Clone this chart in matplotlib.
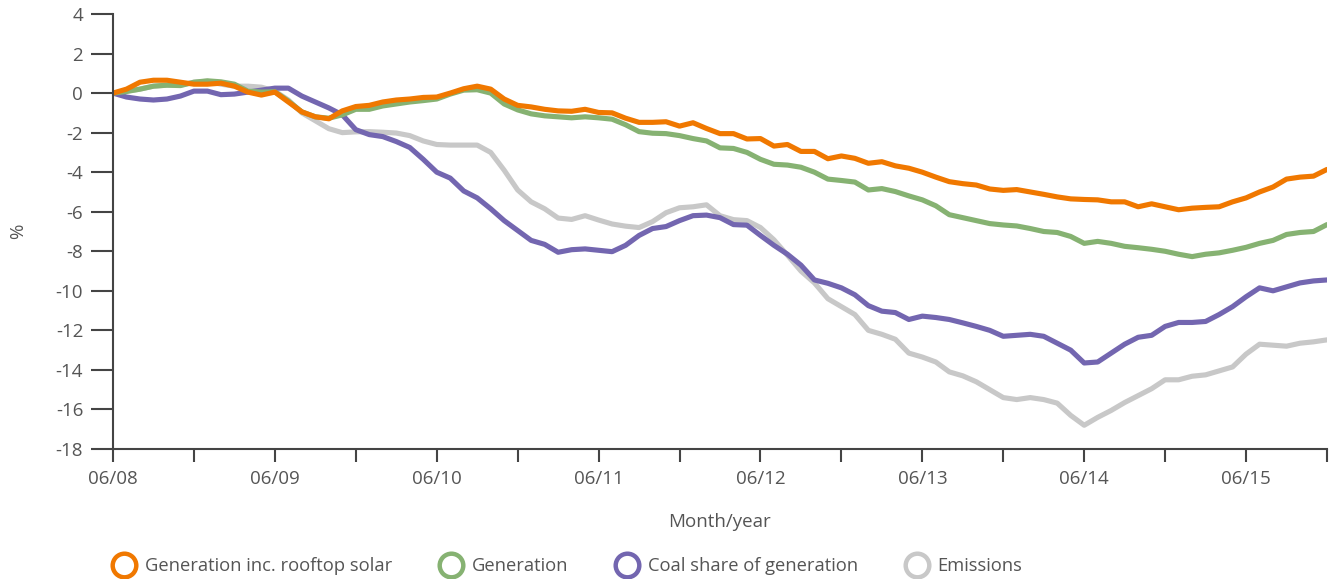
import numpy as np
import matplotlib
matplotlib.use("Agg")
import matplotlib.pyplot as plt
from matplotlib.lines import Line2D

plt.rcParams['font.family'] = ['Open Sans', 'DejaVu Sans']

# Monthly values, June 2008 .. December 2015 (91 months), % change
gen_rooftop = [0.0, 0.2, 0.55, 0.65, 0.65, 0.55, 0.45, 0.45, 0.5, 0.35, 0.05, -0.1, 0.05,
               -0.45, -0.95, -1.2, -1.3, -0.9, -0.68, -0.62, -0.45, -0.35, -0.3, -0.22, -0.2,
               0.0, 0.22, 0.35, 0.2, -0.3, -0.62, -0.7, -0.82, -0.9, -0.92, -0.82, -0.98,
               -1.0, -1.27, -1.48, -1.48, -1.45, -1.67, -1.5, -1.79, -2.05, -2.05, -2.32, -2.3,
               -2.68, -2.6, -2.95, -2.95, -3.32, -3.18, -3.3, -3.55, -3.47, -3.68, -3.8, -4.0,
               -4.25, -4.48, -4.58, -4.65, -4.85, -4.92, -4.88, -5.0, -5.12, -5.25, -5.35, -5.38,
               -5.4, -5.5, -5.5, -5.75, -5.6, -5.75, -5.9, -5.82, -5.78, -5.75, -5.5, -5.3,
               -5.0, -4.75, -4.35, -4.25, -4.2, -3.86]

generation = [0.0, 0.08, 0.2, 0.35, 0.4, 0.38, 0.55, 0.62, 0.57, 0.45, 0.1, 0.05, 0.07,
              -0.4, -0.95, -1.2, -1.27, -1.1, -0.82, -0.82, -0.65, -0.55, -0.45, -0.38, -0.3,
              -0.05, 0.15, 0.17, 0.0, -0.55, -0.85, -1.05, -1.15, -1.2, -1.25, -1.2, -1.25,
              -1.32, -1.6, -1.95, -2.03, -2.05, -2.15, -2.3, -2.42, -2.77, -2.8, -3.0, -3.35,
              -3.6, -3.64, -3.75, -4.0, -4.35, -4.42, -4.5, -4.9, -4.83, -4.98, -5.2, -5.4,
              -5.7, -6.15, -6.3, -6.45, -6.6, -6.67, -6.72, -6.85, -7.0, -7.05, -7.25, -7.6,
              -7.5, -7.6, -7.75, -7.82, -7.9, -8.0, -8.15, -8.27, -8.15, -8.08, -7.95, -7.8,
              -7.6, -7.45, -7.15, -7.05, -7.0, -6.65]

coal_share = [0.0, -0.2, -0.3, -0.35, -0.3, -0.15, 0.1, 0.1, -0.08, -0.05, 0.05, 0.15, 0.25,
              0.25, -0.15, -0.45, -0.75, -1.1, -1.85, -2.1, -2.2, -2.45, -2.75, -3.35, -4.0,
              -4.3, -4.95, -5.3, -5.85, -6.45, -6.95, -7.45, -7.65, -8.05, -7.92, -7.88, -7.95,
              -8.02, -7.7, -7.2, -6.85, -6.75, -6.45, -6.2, -6.17, -6.3, -6.65, -6.68, -7.2,
              -7.7, -8.15, -8.7, -9.45, -9.62, -9.85, -10.2, -10.75, -11.03, -11.1, -11.45, -11.28,
              -11.35, -11.45, -11.62, -11.8, -12.0, -12.3, -12.25, -12.2, -12.3, -12.65, -13.0, -13.65,
              -13.6, -13.15, -12.7, -12.35, -12.25, -11.8, -11.6, -11.6, -11.55, -11.2, -10.8, -10.3,
              -9.85, -10.0, -9.8, -9.6, -9.5, -9.45]

emissions = [0.0, 0.1, 0.2, 0.35, 0.4, 0.4, 0.55, 0.6, 0.45, 0.35, 0.35, 0.3, 0.1,
             -0.35, -1.0, -1.4, -1.8, -2.0, -1.96, -1.95, -1.98, -2.02, -2.15, -2.42, -2.6,
             -2.63, -2.63, -2.63, -3.0, -3.9, -4.9, -5.5, -5.85, -6.32, -6.39, -6.2, -6.42,
             -6.62, -6.73, -6.8, -6.5, -6.05, -5.8, -5.75, -5.65, -6.2, -6.4, -6.45, -6.8,
             -7.42, -8.2, -9.0, -9.6, -10.4, -10.8, -11.2, -12.0, -12.2, -12.45, -13.15, -13.35,
             -13.6, -14.1, -14.3, -14.6, -15.0, -15.4, -15.5, -15.4, -15.5, -15.68, -16.3, -16.8,
             -16.4, -16.05, -15.65, -15.3, -14.95, -14.5, -14.5, -14.32, -14.25, -14.05, -13.85, -13.2,
             -12.7, -12.75, -12.8, -12.65, -12.58, -12.48]

series_names = ["Generation inc. rooftop solar", "Generation",
                "Coal share of generation", "Emissions"]
colors = ["#F07800", "#86B272", "#7366B0", "#C8C8C8"]

x_tick_labels = ["06/08", "06/09", "06/10", "06/11", "06/12", "06/13", "06/14", "06/15"]
y_ticks = [4, 2, 0, -2, -4, -6, -8, -10, -12, -14, -16, -18]

months = np.arange(len(gen_rooftop))

fig = plt.figure(figsize=(13.44, 5.79), dpi=100)
ax = fig.add_axes([113/1344, 1-449/579, (1327-113)/1344, (449-14)/579])

data = [gen_rooftop, generation, coal_share, emissions]
for idx in [3, 2, 1, 0]:
    ax.plot(months, data[idx], color=colors[idx], lw=3.7, solid_capstyle='round',
            solid_joinstyle='round', zorder=3 + (3 - idx))

ax.set_xlim(0, 90)
ax.set_ylim(-18, 4)
ax.set_yticks(y_ticks)
ax.set_yticklabels([str(v) for v in y_ticks])
ax.set_xticks(np.arange(0, 85, 12))
ax.set_xticklabels(x_tick_labels)
ax.set_xticks(np.arange(6, 91, 12), minor=True)

tick_col = "#444444"
text_col = "#555555"
for s in ["top", "right"]:
    ax.spines[s].set_visible(False)
for s in ["left", "bottom"]:
    ax.spines[s].set_color(tick_col)
    ax.spines[s].set_linewidth(1.5)
    ax.spines[s].set_zorder(10)
ax.tick_params(axis='y', which='major', length=15.5, width=1.5, color=tick_col,
               labelcolor=text_col, labelsize=13.5, pad=6)
ax.tick_params(axis='x', which='both', length=9, width=1.5, color=tick_col,
               labelcolor=text_col, labelsize=13.5, pad=6)

ax.set_ylabel("%", color=text_col, fontsize=13.5)
ax.set_xlabel("Month/year", color=text_col, fontsize=13.5, labelpad=18)
ax.yaxis.set_label_coords(-0.071, 0.5)

handles = [Line2D([], [], linestyle='', marker='o', markersize=17, markerfacecolor='none',
                  markeredgecolor=c, markeredgewidth=3.2) for c in colors]
fig.legend(handles, series_names, loc='center left', bbox_to_anchor=(96/1344, 1-566/579),
           ncol=4, frameon=False, fontsize=13.2, labelcolor=text_col,
           handletextpad=0.55, columnspacing=2.6, handlelength=1.2)

fig.savefig("out.png", dpi=100)
